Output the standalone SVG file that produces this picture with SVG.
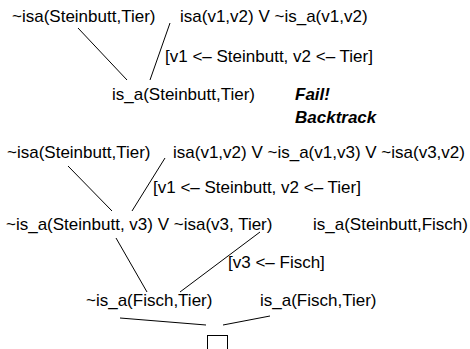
<svg xmlns="http://www.w3.org/2000/svg" width="470" height="349" viewBox="0 0 470 349">
<style>
text{font-family:"Liberation Sans",Arial,Helvetica,sans-serif;font-size:17px;fill:#000}
.bi{font-weight:bold;font-style:italic}
.c line{stroke:#000;stroke-width:1}
</style>
<rect width="470" height="349" fill="#fff"/>
<g class="c" id="connectors">
<line x1="78" y1="28" x2="127" y2="80"/>
<line x1="170" y1="23" x2="150" y2="80"/>
<line x1="68" y1="166" x2="112" y2="211"/>
<line x1="165" y1="158" x2="132" y2="211"/>
<line x1="116" y1="238" x2="147" y2="292"/>
<line x1="260" y1="232" x2="180" y2="292"/>
<line x1="120" y1="318" x2="206" y2="325"/>
<line x1="270" y1="316" x2="223" y2="325"/>
</g>
<g id="n1"><text x="12" y="22">~isa(Steinbutt,Tier)</text></g>
<g id="n2"><text x="180" y="22">isa(v1,v2) V ~is_a(v1,v2)</text></g>
<g id="l1"><text x="165" y="62">[v1 &lt;– Steinbutt, v2 &lt;– Tier]</text></g>
<g id="n3"><text x="112" y="100">is_a(Steinbutt,Tier)</text></g>
<g id="fail"><text class="bi" x="295" y="100">Fail!</text><text class="bi" x="295" y="123">Backtrack</text></g>
<g id="n4"><text x="7" y="158">~isa(Steinbutt,Tier)</text></g>
<g id="n5"><text x="173" y="158">isa(v1,v2) V ~is_a(v1,v3) V ~isa(v3,v2)</text></g>
<g id="l2"><text x="153" y="193">[v1 &lt;– Steinbutt, v2 &lt;– Tier]</text></g>
<g id="n6"><text x="6" y="230">~is_a(Steinbutt, v3) V ~isa(v3, Tier)</text></g>
<g id="n7"><text x="313" y="230">is_a(Steinbutt,Fisch)</text></g>
<g id="l3"><text x="228" y="268">[v3 &lt;– Fisch]</text></g>
<g id="n8"><text x="86" y="306">~is_a(Fisch,Tier)</text></g>
<g id="n9"><text x="260" y="306">is_a(Fisch,Tier)</text></g>
<g id="empty"><rect x="207.5" y="335.5" width="20" height="20" fill="none" stroke="#000"/></g>
</svg>
